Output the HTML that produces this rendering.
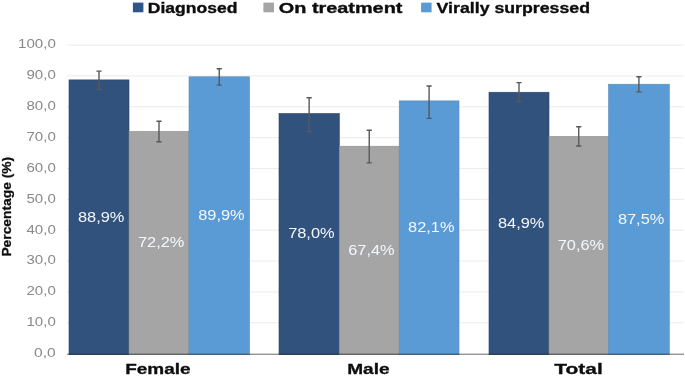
<!DOCTYPE html>
<html><head><meta charset="utf-8"><title>chart</title>
<style>
html,body{margin:0;padding:0;background:#fff;}
body{width:685px;height:377px;overflow:hidden;font-family:"Liberation Sans",sans-serif;}
svg{display:block;will-change:transform;}
text{font-family:"Liberation Sans",sans-serif;}
.yl{font-size:13.2px;fill:#898989;}
.dl{font-size:14.3px;fill:#f4f7fb;}
.cat{font-size:15px;font-weight:bold;fill:#0d0d0d;stroke:#0d0d0d;stroke-width:0.3px;}
.leg{font-size:15px;font-weight:bold;fill:#0d0d0d;stroke:#0d0d0d;stroke-width:0.35px;}
.yt{font-size:13.5px;font-weight:bold;fill:#0d0d0d;stroke:#0d0d0d;stroke-width:0.25px;}
</style></head><body>
<svg width="685" height="377" viewBox="0 0 685 377">
<rect width="685" height="377" fill="#fff"/>

<line x1="67" x2="684" y1="322.75" y2="322.75" stroke="#ebebeb" stroke-width="1"/>
<line x1="67" x2="684" y1="291.90" y2="291.90" stroke="#ebebeb" stroke-width="1"/>
<line x1="67" x2="684" y1="261.05" y2="261.05" stroke="#ebebeb" stroke-width="1"/>
<line x1="67" x2="684" y1="230.20" y2="230.20" stroke="#ebebeb" stroke-width="1"/>
<line x1="67" x2="684" y1="199.35" y2="199.35" stroke="#ebebeb" stroke-width="1"/>
<line x1="67" x2="684" y1="168.50" y2="168.50" stroke="#ebebeb" stroke-width="1"/>
<line x1="67" x2="684" y1="137.65" y2="137.65" stroke="#ebebeb" stroke-width="1"/>
<line x1="67" x2="684" y1="106.80" y2="106.80" stroke="#ebebeb" stroke-width="1"/>
<line x1="67" x2="684" y1="75.95" y2="75.95" stroke="#ebebeb" stroke-width="1"/>
<line x1="67" x2="684" y1="45.10" y2="45.10" stroke="#ebebeb" stroke-width="1"/>
<text class="yl" x="34.10" y="356.90" textLength="21.70" lengthAdjust="spacingAndGlyphs">0,0</text>
<text class="yl" x="26.50" y="326.05" textLength="29.30" lengthAdjust="spacingAndGlyphs">10,0</text>
<text class="yl" x="26.50" y="295.20" textLength="29.30" lengthAdjust="spacingAndGlyphs">20,0</text>
<text class="yl" x="26.50" y="264.35" textLength="29.30" lengthAdjust="spacingAndGlyphs">30,0</text>
<text class="yl" x="26.50" y="233.50" textLength="29.30" lengthAdjust="spacingAndGlyphs">40,0</text>
<text class="yl" x="26.50" y="202.65" textLength="29.30" lengthAdjust="spacingAndGlyphs">50,0</text>
<text class="yl" x="26.50" y="171.80" textLength="29.30" lengthAdjust="spacingAndGlyphs">60,0</text>
<text class="yl" x="26.50" y="140.95" textLength="29.30" lengthAdjust="spacingAndGlyphs">70,0</text>
<text class="yl" x="26.50" y="110.10" textLength="29.30" lengthAdjust="spacingAndGlyphs">80,0</text>
<text class="yl" x="26.50" y="79.25" textLength="29.30" lengthAdjust="spacingAndGlyphs">90,0</text>
<text class="yl" x="18.00" y="48.40" textLength="37.80" lengthAdjust="spacingAndGlyphs">100,0</text>
<rect x="69" y="79.89" width="60.00" height="274.81" fill="#30527D" stroke="#2A4568" stroke-width="0.6"/>
<rect x="129" y="131.41" width="60.00" height="223.29" fill="#A5A5A5" stroke="#8E8E8E" stroke-width="0.6"/>
<rect x="189" y="76.81" width="60.50" height="277.89" fill="#5B9BD5" stroke="#5A8BBB" stroke-width="0.6"/>
<rect x="279" y="113.52" width="60.30" height="241.18" fill="#30527D" stroke="#2A4568" stroke-width="0.6"/>
<rect x="339.3" y="146.22" width="59.90" height="208.48" fill="#A5A5A5" stroke="#8E8E8E" stroke-width="0.6"/>
<rect x="399.2" y="100.87" width="59.80" height="253.83" fill="#5B9BD5" stroke="#5A8BBB" stroke-width="0.6"/>
<rect x="489" y="92.23" width="60.00" height="262.47" fill="#30527D" stroke="#2A4568" stroke-width="0.6"/>
<rect x="549" y="136.35" width="59.50" height="218.35" fill="#A5A5A5" stroke="#8E8E8E" stroke-width="0.6"/>
<rect x="608.5" y="84.21" width="60.80" height="270.49" fill="#5B9BD5" stroke="#5A8BBB" stroke-width="0.6"/>
<line x1="67" x2="684" y1="354.2" y2="354.2" stroke="#1e1e1e" stroke-opacity="0.66" stroke-width="1"/>
<path d="M99.00 71.1 V89.5 M96.40 71.1 H101.60 M96.40 89.5 H101.60" stroke="#595959" stroke-width="1.4" fill="none"/>
<path d="M159.00 121.3 V141.7 M156.40 121.3 H161.60 M156.40 141.7 H161.60" stroke="#595959" stroke-width="1.4" fill="none"/>
<path d="M219.25 68.7 V85.1 M216.65 68.7 H221.85 M216.65 85.1 H221.85" stroke="#595959" stroke-width="1.4" fill="none"/>
<path d="M309.15 97.8 V131.6 M306.55 97.8 H311.75 M306.55 131.6 H311.75" stroke="#595959" stroke-width="1.4" fill="none"/>
<path d="M369.25 130.2 V162.9 M366.65 130.2 H371.85 M366.65 162.9 H371.85" stroke="#595959" stroke-width="1.4" fill="none"/>
<path d="M429.10 86 V118.4 M426.50 86 H431.70 M426.50 118.4 H431.70" stroke="#595959" stroke-width="1.4" fill="none"/>
<path d="M519.00 82.6 V101.6 M516.40 82.6 H521.60 M516.40 101.6 H521.60" stroke="#595959" stroke-width="1.4" fill="none"/>
<path d="M578.75 126.7 V146 M576.15 126.7 H581.35 M576.15 146 H581.35" stroke="#595959" stroke-width="1.4" fill="none"/>
<path d="M638.90 76.7 V91.9 M636.30 76.7 H641.50 M636.30 91.9 H641.50" stroke="#595959" stroke-width="1.4" fill="none"/>
<text class="dl" x="78.00" y="221.67" textLength="46.4" lengthAdjust="spacingAndGlyphs">88,9%</text>
<text class="dl" x="138.00" y="247.43" textLength="46.4" lengthAdjust="spacingAndGlyphs">72,2%</text>
<text class="dl" x="198.25" y="220.13" textLength="46.4" lengthAdjust="spacingAndGlyphs">89,9%</text>
<text class="dl" x="288.15" y="238.49" textLength="46.4" lengthAdjust="spacingAndGlyphs">78,0%</text>
<text class="dl" x="348.25" y="254.84" textLength="46.4" lengthAdjust="spacingAndGlyphs">67,4%</text>
<text class="dl" x="408.10" y="232.16" textLength="46.4" lengthAdjust="spacingAndGlyphs">82,1%</text>
<text class="dl" x="498.00" y="227.84" textLength="46.4" lengthAdjust="spacingAndGlyphs">84,9%</text>
<text class="dl" x="557.75" y="249.90" textLength="46.4" lengthAdjust="spacingAndGlyphs">70,6%</text>
<text class="dl" x="617.90" y="223.83" textLength="46.4" lengthAdjust="spacingAndGlyphs">87,5%</text>
<text class="cat" x="125.2" y="373.8" textLength="65.4" lengthAdjust="spacingAndGlyphs">Female</text>
<text class="cat" x="347.2" y="373.8" textLength="42.4" lengthAdjust="spacingAndGlyphs">Male</text>
<text class="cat" x="554.3" y="373.8" textLength="48.4" lengthAdjust="spacingAndGlyphs">Total</text>
<rect x="132.9" y="2.6" width="10.5" height="9.7" fill="#2F5689"/>
<text class="leg" x="147.8" y="13.1" textLength="89.6" lengthAdjust="spacingAndGlyphs">Diagnosed</text>
<rect x="263.4" y="2.6" width="10.6" height="9.7" fill="#A5A5A5"/>
<text class="leg" x="278.8" y="13.1" textLength="123.6" lengthAdjust="spacingAndGlyphs">On treatment</text>
<rect x="421.1" y="2.6" width="10.5" height="9.7" fill="#5B9BD5"/>
<text class="leg" x="436.6" y="13.1" textLength="153.4" lengthAdjust="spacingAndGlyphs">Virally surpressed</text>
<g transform="translate(10.9,256.6) rotate(-90)"><text class="yt" x="0" y="0" textLength="99.8" lengthAdjust="spacingAndGlyphs">Percentage (%)</text></g>
</svg></body></html>
